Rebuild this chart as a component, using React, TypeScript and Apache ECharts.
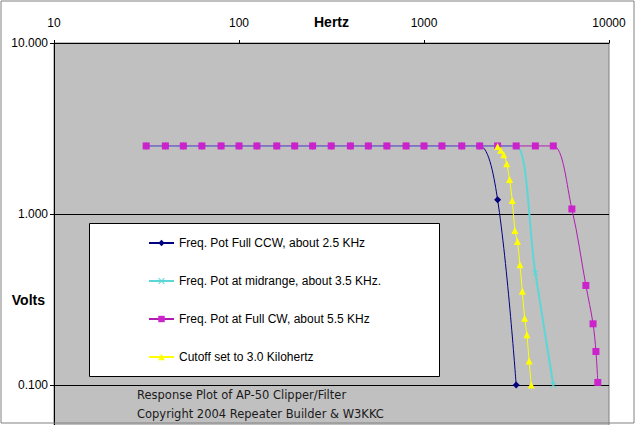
import React, { useEffect, useRef } from 'react';
import * as echarts from 'echarts';

// Frequencies (Hz) and measured output (Volts)
const thirdOctave = [31.5, 40, 50, 63, 80, 100, 125, 160, 200, 250, 315, 400, 500, 630, 800, 1000, 1250, 1600];

const ccwFreq = [...thirdOctave, 2000, 2500, 3150];
const ccwVolts = [2.5, 2.5, 2.5, 2.5, 2.5, 2.5, 2.5, 2.5, 2.5, 2.5, 2.5, 2.5, 2.5, 2.5, 2.5, 2.5, 2.5, 2.5, 2.5, 1.21, 0.1];

const midFreq = [...thirdOctave, 2000, 2500, 3150, 4000, 5000];
const midVolts = [2.5, 2.5, 2.5, 2.5, 2.5, 2.5, 2.5, 2.5, 2.5, 2.5, 2.5, 2.5, 2.5, 2.5, 2.5, 2.5, 2.5, 2.5, 2.5, 2.5, 2.5, 0.452, 0.1];

const cwFreq = [...thirdOctave, 2000, 2500, 3150, 4000, 5000, 6300, 7500, 8200, 8500, 8700];
const cwVolts = [2.5, 2.5, 2.5, 2.5, 2.5, 2.5, 2.5, 2.5, 2.5, 2.5, 2.5, 2.5, 2.5, 2.5, 2.5, 2.5, 2.5, 2.5, 2.5, 2.5, 2.5, 2.5, 2.5, 1.07, 0.382, 0.228, 0.157, 0.1035];

const cutFreq = [2500, 2600, 2700, 2800, 2900, 3000, 3100, 3200, 3300, 3400, 3500, 3600, 3700, 3800];
const cutVolts = [2.48, 2.36, 2.22, 1.97, 1.59, 1.2, 0.8, 0.69, 0.505, 0.353, 0.246, 0.197, 0.138, 0.1];

const seriesNames = [
  'Freq. Pot Full CCW, about 2.5 KHz',
  'Freq. Pot at midrange, about 3.5 KHz.',
  'Freq. Pot at Full CW, about 5.5 KHz',
  'Cutoff set to 3.0 Kilohertz',
];

const footerLines = ['Response Plot of AP-50 Clipper/Filter', 'Copyright 2004 Repeater Builder & W3KKC'];

const xName = 'Hertz';
const yName = 'Volts';

const FONT = 'Arial, "Liberation Sans", sans-serif';
const X_SYMBOL = 'path://M0,1L1,0L5,4L9,0L10,1L6,5L10,9L9,10L5,6L1,10L0,9L4,5Z';

const pairs = (xs: number[], ys: number[]) => xs.map((x, i) => [x, ys[i]]);

export default function App() {
  const ref = useRef<HTMLDivElement>(null);

  useEffect(() => {
    document.body.style.margin = '0';
    if (!ref.current) return;
    const chart = echarts.init(ref.current, undefined, { renderer: 'svg' });
    const smooth = 0.35;
    chart.setOption({
      animation: false,
      backgroundColor: '#ffffff',
      textStyle: { fontFamily: FONT },
      grid: {
        left: 54,
        top: 43,
        right: 26,
        bottom: -131,
        outerBoundsMode: 'none',
        containLabel: false,
        show: true,
        backgroundColor: '#C0C0C0',
        borderColor: '#808080',
        borderWidth: 1,
      },
      xAxis: {
        type: 'log',
        logBase: 10,
        min: 10,
        max: 10000,
        position: 'top',
        name: xName,
        nameLocation: 'middle',
        nameGap: 14,
        nameMoveOverlap: false,
        nameTextStyle: { fontSize: 14, fontWeight: 'bold', color: '#000', fontFamily: FONT },
        axisLine: { show: true, lineStyle: { color: '#000', width: 1 } },
        axisTick: { show: true, length: 3, lineStyle: { color: '#000' } },
        axisLabel: {
          fontSize: 12,
          color: '#000',
          margin: 14,
          fontFamily: FONT,
          formatter: (v: number) => String(Math.round(v)),
        },
        splitLine: { show: false },
        minorTick: { show: false },
      },
      yAxis: {
        type: 'log',
        logBase: 10,
        min: 0.01,
        max: 10,
        name: yName,
        nameLocation: 'middle',
        nameRotate: 0,
        nameGap: 9,
        nameMoveOverlap: false,
        nameTextStyle: { fontSize: 14, fontWeight: 'bold', color: '#000', fontFamily: FONT },
        axisLine: { show: true, lineStyle: { color: '#000', width: 1 } },
        axisTick: { show: true, length: 4, lineStyle: { color: '#000' } },
        axisLabel: {
          fontSize: 12,
          color: '#000',
          margin: 6,
          fontFamily: FONT,
          formatter: (v: number) => (v < 0.05 ? '' : Number(v).toFixed(3)),
        },
        splitLine: { show: true, lineStyle: { color: '#000', width: 1 } },
      },
      legend: {
        orient: 'vertical',
        left: 148,
        top: 236,
        itemWidth: 25,
        itemHeight: 8,
        itemGap: 24,
        padding: 0,
        z: 10,
        data: seriesNames,
        textStyle: { fontSize: 12, color: '#000', fontFamily: FONT, lineHeight: 14 },
      },
      graphic: [
        {
          type: 'rect',
          z: 6,
          shape: { x: 89.5, y: 223.5, width: 350, height: 153 },
          style: { fill: '#ffffff', stroke: '#000', lineWidth: 1 },
        },
        {
          type: 'text',
          z: 6,
          x: 137,
          y: 395,
          style: {
            text: footerLines[0],
            fontSize: 11.5,
            fontFamily: '"DejaVu Sans", sans-serif',
            fill: '#1a1a1a',
            verticalAlign: 'middle',
          },
        },
        {
          type: 'text',
          z: 6,
          x: 137,
          y: 414,
          style: {
            text: footerLines[1],
            fontSize: 11.5,
            fontFamily: '"DejaVu Sans", sans-serif',
            fill: '#1a1a1a',
            verticalAlign: 'middle',
          },
        },
        {
          type: 'rect',
          z: 20,
          silent: true,
          shape: { x: 1, y: 1, width: 633, height: 422 },
          style: { fill: 'none', stroke: '#808080', lineWidth: 1 },
        },
      ],
      series: [
        {
          name: seriesNames[0],
          type: 'line',
          data: pairs(ccwFreq, ccwVolts),
          smooth,
          symbol: 'diamond',
          symbolSize: 7,
          lineStyle: { color: '#000080', width: 1 },
          itemStyle: { color: '#000080' },
        },
        {
          name: seriesNames[1],
          type: 'line',
          data: pairs(midFreq, midVolts),
          smooth,
          symbol: X_SYMBOL,
          symbolSize: 6,
          lineStyle: { color: '#5CD6D6', width: 2 },
          itemStyle: { color: '#5CD6D6' },
        },
        {
          name: seriesNames[2],
          type: 'line',
          data: pairs(cwFreq, cwVolts),
          smooth,
          symbol: 'rect',
          symbolSize: 7,
          lineStyle: { color: '#B01CB0', width: 1 },
          itemStyle: { color: '#CC22CC' },
        },
        {
          name: seriesNames[3],
          type: 'line',
          data: pairs(cutFreq, cutVolts),
          smooth,
          symbol: 'triangle',
          symbolSize: 7,
          lineStyle: { color: '#FFFF00', width: 1 },
          itemStyle: { color: '#FFFF00' },
        },
      ],
    });
    return () => chart.dispose();
  }, []);

  return <div ref={ref} style={{ width: 635, height: 425 }} />;
}
